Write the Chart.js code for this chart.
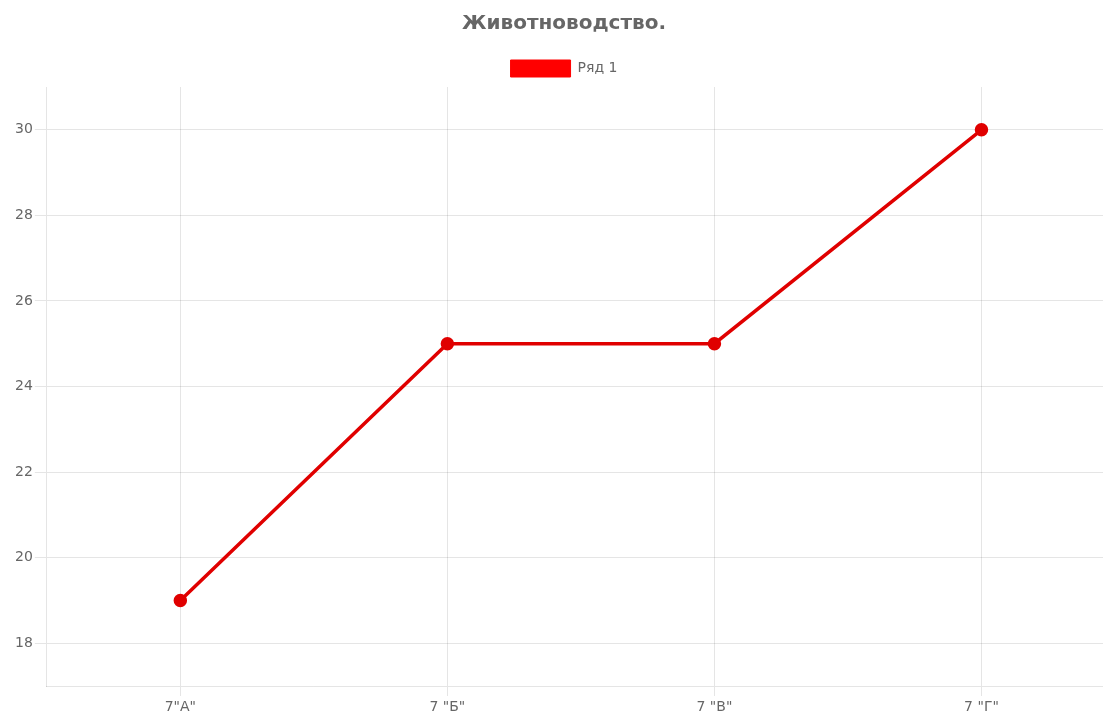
<!DOCTYPE html>
<html><head><meta charset="utf-8">
<script src="https://cdn.jsdelivr.net/npm/chart.js@4/dist/chart.umd.min.js"></script>
<style>html,body{margin:0;padding:0;overflow:hidden;background:#fff}#wrap{width:1128px;height:713px;position:relative}</style>
</head><body>
<div id="wrap"><canvas id="c"></canvas></div>
<script>
const categories = ['7"А"', '7 "Б"', '7 "В"', '7 "Г"'];
const seriesName = 'Ряд 1';
const values = [19, 25, 25, 30];
const yTicks = [18, 20, 22, 24, 26, 28, 30];
const titleText = 'Животноводство.';

Chart.defaults.font.family = '"DejaVu Sans", Arial, sans-serif';
Chart.defaults.color = '#666';
new Chart(document.getElementById('c'), {
  type: 'line',
  data: {
    labels: categories,
    datasets: [{
      label: seriesName,
      data: values,
      borderColor: '#e00000',
      backgroundColor: '#ff0000',
      pointBackgroundColor: '#e00000',
      pointBorderColor: '#e00000',
      borderWidth: 3.5,
      pointRadius: 5,
      tension: 0,
      fill: false
    }]
  },
  options: {
    responsive: true,
    maintainAspectRatio: false,
    animation: false,
    layout: { padding: { left: 13, right: 13, top: 0, bottom: 0 } },
    plugins: {
      title: { display: true, text: titleText, color: '#666', font: { size: 20, weight: 'bold' }, padding: { top: 12, bottom: 12 } },
      legend: { labels: { boxWidth: 60, boxHeight: 17, font: { size: 14 }, color: '#666', padding: 12,
        generateLabels: (chart) => [{ text: seriesName, fillStyle: '#ff0000', strokeStyle: '#ff0000', lineWidth: 1, datasetIndex: 0, fontColor: '#666' }] } }
    },
    scales: {
      x: { offset: true, afterFit: (s) => { s.height = 27; },
        grid: { color: 'rgba(0,0,0,0.1)', offset: false, tickLength: 10 }, ticks: { font: { size: 14 }, color: '#666', padding: 3 } },
      y: { min: 17, max: 31,
        afterBuildTicks: (axis) => { axis.ticks = yTicks.map(v => ({ value: v })); },
        grid: { color: 'rgba(0,0,0,0.1)', tickLength: 12 }, ticks: { font: { size: 14 }, color: '#666', padding: 2 } }
    }
  }
});
</script>
</body></html>
